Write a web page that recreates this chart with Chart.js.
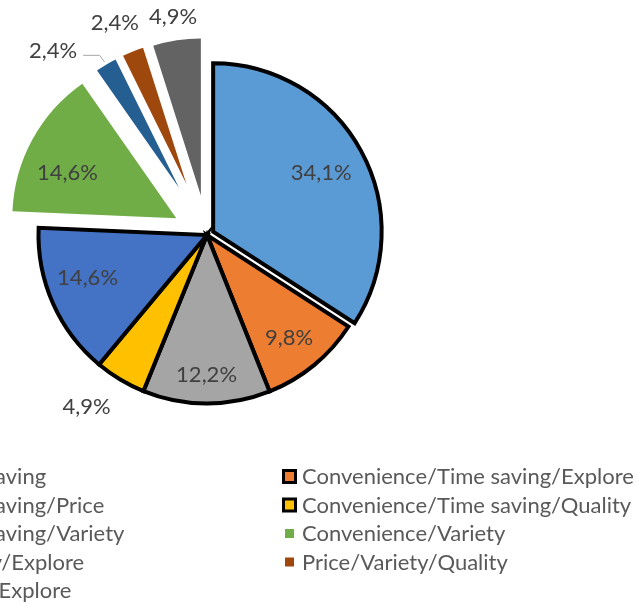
<!DOCTYPE html>
<html>
<head>
<meta charset="utf-8">
<script src="https://cdn.jsdelivr.net/npm/chart.js@4.4.1/dist/chart.umd.min.js"></script>
<style>
  html, body { margin: 0; padding: 0; background: #ffffff; overflow: hidden; }
  canvas { display: block; }
</style>
</head>
<body>
<canvas id="c" width="638" height="605"></canvas>
<script>
// ---- data ----
const categories = [
  "Convenience/Time saving",
  "Convenience/Time saving/Explore",
  "Convenience/Time saving/Price",
  "Convenience/Time saving/Quality",
  "Convenience/Time saving/Variety",
  "Convenience/Variety",
  "Convenience/Quality/Explore",
  "Price/Variety/Quality",
  "Time saving/Variety/Explore"
];
const shares = [34.1, 9.8, 12.2, 4.9, 14.6, 14.6, 2.4, 2.4, 4.9];

// ---- styles ----
const colors = ["#5B9BD5", "#ED7D31", "#A5A5A5", "#FFC000", "#4472C4", "#70AD47", "#255E91", "#9E480E", "#636363"];
const borders = [4, 4, 4, 4, 4, 0, 0, 0, 0];
const explodeDist = [7, 0, 0, 0, 0, 35, 55, 55, 40];
const sliceRadius = [168.5, 168.5, 168.5, 168.5, 168.5, 164, 143, 143, 157];
const labelDist = [123, 132, 140, 210, 127, 118, 186, 176, 181];
const labelShift = [0, 1, 0, 4, 4, -6, -12, -2, 0];
const leaderLines = [false, false, false, false, false, false, true, false, false];

const FONT = "22px Lato";
const fmtPct = v => v.toFixed(1).replace(".", ",") + "%";

const explodePlugin = {
  id: "explode",
  afterDatasetsUpdate(chart, args, opts) {
    chart.getDatasetMeta(0).data.forEach((arc, i) => {
      const mid = (arc.startAngle + arc.endAngle) / 2;
      const d = opts.dist[i] || 0;
      arc.x += Math.cos(mid) * d;
      arc.y += Math.sin(mid) * d;
      arc.outerRadius = opts.radius[i];
    });
  }
};

const labelPlugin = {
  id: "sliceLabels",
  afterDatasetsDraw(chart, args, opts) {
    const ctx = chart.ctx;
    const meta = chart.getDatasetMeta(0);
    const values = chart.data.datasets[0].data;
    ctx.save();
    ctx.font = opts.font;
    ctx.fillStyle = opts.color;
    ctx.textAlign = "center";
    ctx.textBaseline = "middle";
    meta.data.forEach((arc, i) => {
      const mid0 = (arc.startAngle + arc.endAngle) / 2;
      const a = mid0 + opts.shift[i] * Math.PI / 180;
      const x = arc.x + Math.cos(a) * opts.dist[i];
      const y = arc.y + Math.sin(a) * opts.dist[i];
      const text = fmtPct(values[i]);
      ctx.fillText(text, x, y);
      if (opts.leader[i]) {
        const tw = ctx.measureText(text).width;
        const R = arc.outerRadius + 3;
        const ex = arc.x + Math.cos(mid0) * R, ey = arc.y + Math.sin(mid0) * R;
        ctx.beginPath();
        ctx.strokeStyle = "#A6A6A6";
        ctx.lineWidth = 1;
        ctx.moveTo(x + tw / 2 + 6, y + 4.5);
        ctx.lineTo(ex - 5, y + 4.5);
        ctx.lineTo(ex, ey);
        ctx.stroke();
      }
    });
    ctx.restore();
  }
};

const legendPlugin = {
  id: "gridLegend",
  afterDraw(chart, args, opts) {
    const ctx = chart.ctx;
    ctx.save();
    ctx.font = opts.font;
    ctx.textBaseline = "middle";
    ctx.textAlign = "left";
    chart.data.labels.forEach((lab, i) => {
      const col = i % 2, row = Math.floor(i / 2);
      const mx = opts.colX[col];
      const y = opts.top + row * opts.rowH;
      const cx = mx + 7.5, cy = y - 0.5;
      ctx.fillStyle = colors[i];
      if (borders[i]) {
        ctx.fillRect(cx - 6, cy - 6, 12, 12);
        ctx.lineWidth = 3;
        ctx.lineJoin = "miter";
        ctx.strokeStyle = "#000000";
        ctx.strokeRect(cx - 6, cy - 6, 12, 12);
      } else {
        ctx.fillRect(cx - 4.5, cy - 4.5, 9, 9);
      }
      ctx.fillStyle = opts.color;
      ctx.fillText(lab, mx + 20, y);
    });
    ctx.restore();
  }
};

new Chart(document.getElementById("c"), {
  type: "pie",
  data: {
    labels: categories,
    datasets: [{
      data: shares,
      backgroundColor: colors,
      borderColor: "#000000",
      borderWidth: borders,
      borderJoinStyle: "miter",
      radius: 169
    }]
  },
  options: {
    responsive: false,
    animation: false,
    devicePixelRatio: 1,
    events: [],
    layout: { padding: { left: 0, right: 224, top: 0, bottom: 135 } },
    plugins: {
      legend: { display: false },
      tooltip: { enabled: false },
      explode: { dist: explodeDist, radius: sliceRadius },
      sliceLabels: { font: FONT, color: "#404040", dist: labelDist, shift: labelShift, leader: leaderLines },
      gridLegend: { font: FONT, color: "#595959", colX: [-223, 282], top: 477, rowH: 28.5 }
    }
  },
  plugins: [explodePlugin, labelPlugin, legendPlugin]
});
</script>
</body>
</html>
